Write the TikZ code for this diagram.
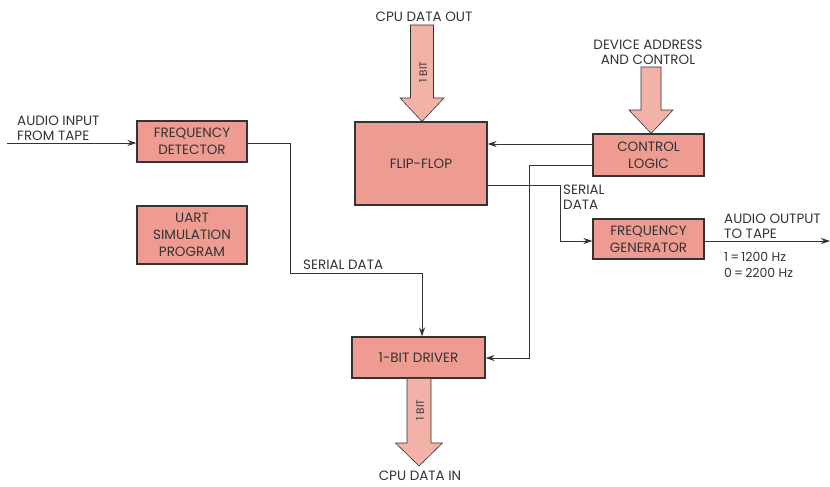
\documentclass[tikz,border=0pt]{standalone}
\usepackage{fontspec}
\setmainfont{Poppins}
\usetikzlibrary{arrows.meta,calc}
\definecolor{boxfill}{HTML}{EE9C92}
\definecolor{arrfill}{HTML}{F3B2A8}
\definecolor{ink}{HTML}{333333}
\tikzset{
  blk/.style={draw=ink, fill=boxfill, line width=1.1pt, align=center, text=ink, font=\fontsize{13.5}{17}\selectfont, inner sep=0pt},
  lbl/.style={text=ink, font=\fontsize{13.5}{15}\selectfont, inner sep=0pt},
  wire/.style={draw=ink, line width=1pt},
  arr/.style={wire, -{Stealth[length=9pt,width=6pt]}},
  bigarr/.style={draw=ink, fill=arrfill, line width=0.6pt},
}
\begin{document}
\begin{tikzpicture}[x=1pt,y=-1pt]
\useasboundingbox (0,0) rectangle (830,487);
% blocks
\node[blk, minimum width=110pt, minimum height=41pt] (fd) at (192,141.5) {FREQUENCY\\DETECTOR};
\node[blk, minimum width=110pt, minimum height=58pt] (uart) at (192,235) {UART\\SIMULATION\\PROGRAM};
\node[blk, minimum width=132pt, minimum height=83pt] (ff) at (421,163.5) {FLIP-FLOP};
\node[blk, minimum width=111pt, minimum height=42pt] (cl) at (648.5,155) {CONTROL\\LOGIC};
\node[blk, minimum width=111pt, minimum height=40pt] (fg) at (648.5,239) {FREQUENCY\\GENERATOR};
\node[blk, minimum width=133pt, minimum height=41pt] (drv) at (418.5,357.5) {1-BIT DRIVER};
% labels
\node[lbl] (cpuout) at (424,17) {CPU DATA OUT};
\node[lbl, align=center] (dev) at (648,52) {DEVICE ADDRESS\\AND CONTROL};
\node[lbl, align=left, anchor=west] (ain_l) at (17,128) {AUDIO INPUT\\FROM TAPE};
\node[lbl, anchor=west] (sd1) at (303,265) {SERIAL DATA};
\node[lbl, align=left, anchor=west] (sd2) at (563,197) {SERIAL\\DATA};
\node[lbl, align=left, anchor=west] (aout_l) at (724,226) {AUDIO OUTPUT\\TO TAPE};
\node[lbl, align=left, anchor=west, font=\fontsize{12.5}{16}\selectfont] (freqs) at (724,265) {1\,=\,1200 Hz\\0\,=\,2200 Hz};
\node[lbl] (cpuin) at (420,476) {CPU DATA IN};
% wires
\coordinate (ain) at (7,143);
\coordinate (aout) at (830,241);
\draw[arr] (ain) -- (ain -| fd.west);
\draw[arr] (fd.east |- 0,143) -- (290,143) -- (290,273) -- (422,273) -- (422,0 |- drv.north);
\draw[arr] (cl.west |- 0,144) -- (ff.east |- 0,144);
\draw[arr] (cl.west |- 0,165) -- (529,165) -- (529,358) -- (drv.east |- 0,358);
\draw[arr] (ff.east |- 0,185) -- (560,185) -- (560,241) -- (fg.west |- 0,241);
\draw[arr] (fg.east |- 0,241) -- (aout);
% big arrows
\draw[bigarr] (410.5,25) -- (433.5,25) -- (433.5,98) -- (444,98) -- (ff.north -| 422,0) -- (400,98) -- (410.5,98) -- cycle;
\node[lbl, rotate=90, font=\fontsize{10.5}{12}\selectfont] (bit1) at (423,72) {1 BIT};
\draw[bigarr] (641,67) -- (661,67) -- (661,110) -- (673,110) -- (cl.north -| 651,0) -- (629,110) -- (641,110) -- cycle;
\draw[bigarr] (407,0 |- drv.south) -- (431,0 |- drv.south) -- (431,443) -- (442.5,443) -- (419,466) -- (395.5,443) -- (407,443) -- cycle;
\node[lbl, rotate=90, font=\fontsize{10.5}{12}\selectfont] (bit2) at (420,410) {1 BIT};
\end{tikzpicture}
\end{document}
